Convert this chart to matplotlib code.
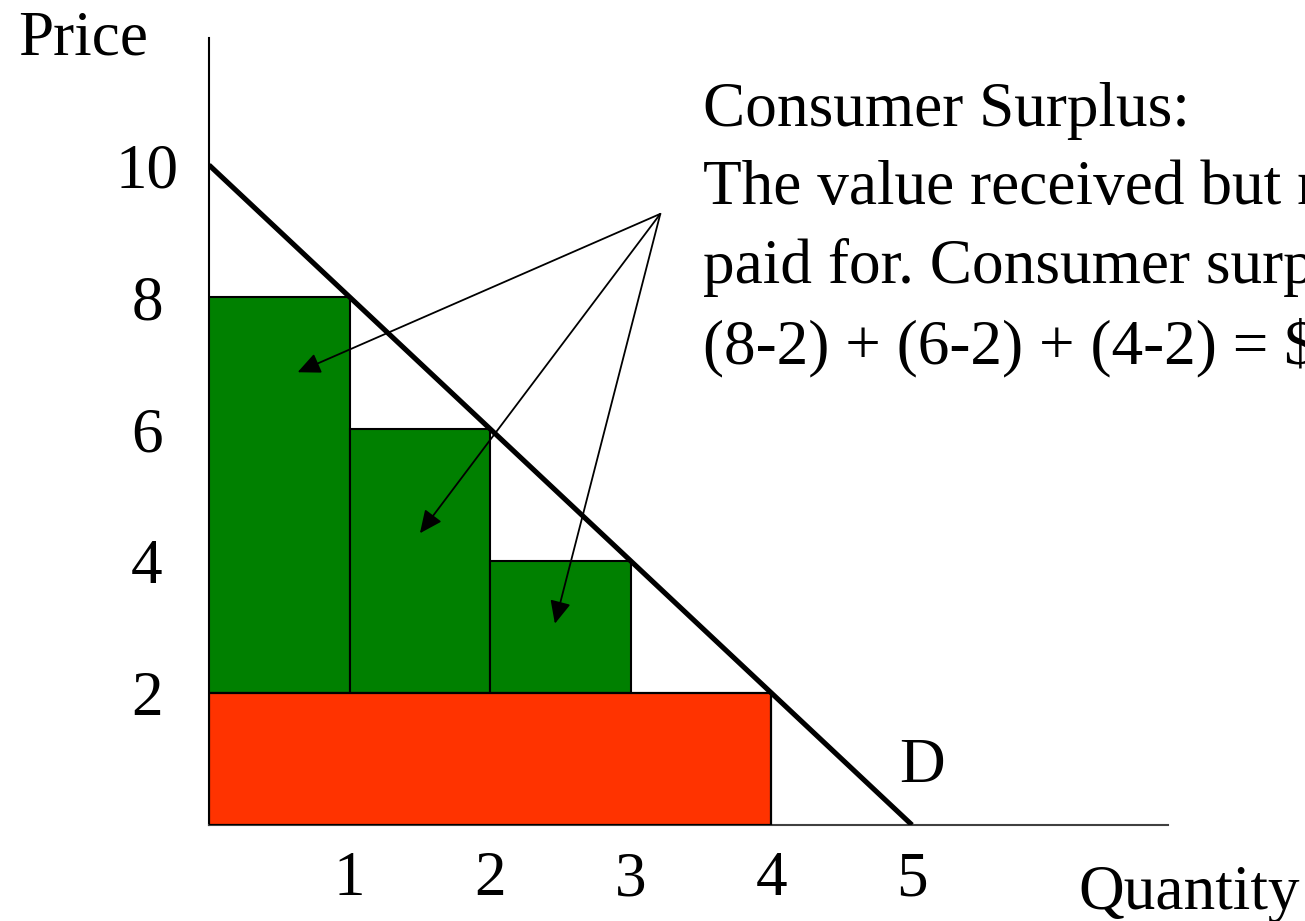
import matplotlib
matplotlib.use("Agg")
import matplotlib.pyplot as plt

# ---- data ----
bar_left = [0, 1, 2]            # quantity where each unit's bar starts
willingness_to_pay = [8, 6, 4]  # value of 1st, 2nd, 3rd unit
market_price = 2
quantity_bought = 4
demand_q = [0, 5]
demand_p = [10, 0]
x_ticks = [1, 2, 3, 4, 5]
y_ticks = [2, 4, 6, 8, 10]
arrow_source = (3.21, 9.26)
arrow_tips = [(0.63, 6.86), (1.50, 4.42), (2.46, 3.05)]
text_lines = ["Consumer Surplus:",
              "The value received but not",
              "paid for. Consumer surplus =",
              "(8-2) + (6-2) + (4-2) = $12"]

W, H = 1305, 921
FS = 45.5
plt.rcParams['font.family'] = ['Liberation Serif', 'DejaVu Serif']

fig = plt.figure(figsize=(W / 100, H / 100), dpi=100)
ax = fig.add_axes([209 / W, (H - 825) / H, (1168 - 209) / W, (825 - 38) / H])
ax.set_xlim(0, 959 / 140.6)
ax.set_ylim(0, 787 / 66)

# consumer surplus bars (green) above price
heights = [w - market_price for w in willingness_to_pay]
ax.bar(bar_left, heights, width=1, bottom=market_price, align='edge',
       color='#008000', edgecolor='black', linewidth=1.5, zorder=3)
# expenditure (red)
ax.bar([0], [market_price], width=quantity_bought, align='edge',
       color='#FF3300', edgecolor='black', linewidth=1.6, zorder=3)

# demand curve
ax.plot(demand_q, demand_p, color='black', linewidth=3.7, zorder=4,
        solid_capstyle='butt')

# arrows
for tip in arrow_tips:
    ax.annotate('', xy=tip, xytext=arrow_source,
                arrowprops=dict(arrowstyle='-|>,head_length=0.92,head_width=0.42',
                                mutation_scale=15, color='black', lw=1.3,
                                shrinkA=0, shrinkB=0), zorder=5)

# spines
for s in ['top', 'right']:
    ax.spines[s].set_visible(False)
ax.spines['left'].set_linewidth(1.5)
ax.spines['left'].set_color('black')
ax.spines['bottom'].set_linewidth(1.5)
ax.spines['bottom'].set_color('#404040')

ax.set_xticks(x_ticks)
ax.set_xticklabels([str(v) for v in x_ticks], fontsize=FS)
ax.set_yticks(y_ticks)
ax.set_yticklabels([str(v) for v in y_ticks], fontsize=FS)
ax.tick_params(axis='x', length=0, pad=19)
ax.tick_params(axis='y', length=0, pad=44.6)
for lab in ax.get_yticklabels():
    lab.set_horizontalalignment('center')

# labels
ax.text(-0.896, 11.67, 'Price', fontsize=FS, ha='center', va='baseline',
        clip_on=False)
ax.text(6.18, -1.27, 'Quantity', fontsize=FS, ha='left', va='baseline',
        clip_on=False)
ax.text(4.91, 0.65, 'D', fontsize=FS, ha='left', va='baseline')
# multi-line text: baseline alignment refers to the last line
ax.text(3.513, 7.0, '\n'.join(text_lines), fontsize=FS, ha='left',
        va='baseline', linespacing=1.45, clip_on=False)

fig.savefig('out.png', dpi=100)
